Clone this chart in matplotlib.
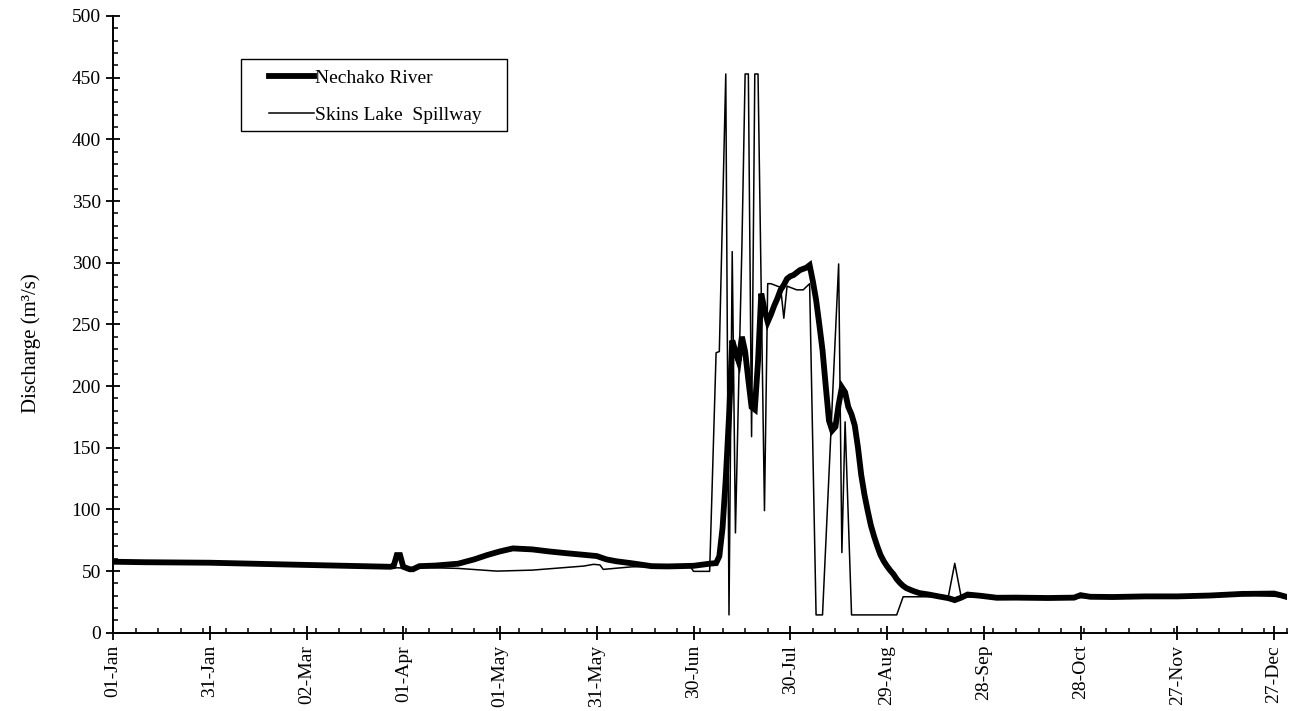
import matplotlib
matplotlib.use("Agg")
import matplotlib.pyplot as plt
from matplotlib.patches import Rectangle
from matplotlib.ticker import MultipleLocator

plt.rcParams['font.family'] = ['Liberation Serif', 'DejaVu Serif']
plt.rcParams['font.size'] = 14

# Nechako River daily discharge (day of year, m3/s)
nechako_day = [0, 10, 30, 60, 86, 87, 88, 89, 90, 92, 93, 95, 100, 107, 112, 116,
               120, 124, 130, 135, 141, 146, 150, 153, 156, 161, 167, 172, 180, 185,
               187, 188, 189, 190, 191, 192, 193, 194, 195, 196, 197, 198, 199, 200,
               201, 202, 203, 204, 205, 206, 207, 208, 209, 210, 211, 212, 213, 214,
               215, 216, 217, 218, 219, 220, 221, 222, 223, 224, 225, 226, 227, 228,
               229, 230, 231, 232, 233, 234, 235, 236, 237, 238, 239, 240, 241, 242,
               243, 244, 245, 246, 248, 250, 253, 256, 259, 261, 263, 265, 269, 274,
               280, 290, 298, 300, 303, 310, 320, 330, 340, 350, 360, 362, 364]
nechako_q = [57.6, 57.2, 56.8, 55.0, 53.5, 54.0, 63.0, 63.0, 53.5, 51.5, 51.5, 54.0,
             54.5, 56.0, 59.5, 63.0, 66.0, 68.4, 67.6, 66.0, 64.4, 63.2, 62.2, 59.5,
             58.0, 56.3, 54.0, 53.8, 54.3, 56.0, 56.5, 62.0, 85.0, 125.0, 175.0, 237.0,
             228.0, 220.0, 240.0, 228.0, 205.0, 183.0, 181.0, 220.0, 275.0, 262.0,
             252.0, 258.0, 265.0, 271.0, 278.0, 282.0, 287.0, 289.0, 290.0, 292.0,
             294.0, 295.0, 296.0, 298.0, 285.0, 270.0, 250.0, 229.0, 200.0, 172.0,
             164.0, 167.0, 185.0, 199.0, 195.0, 183.0, 177.0, 168.0, 150.0, 128.0,
             112.0, 99.0, 87.0, 78.0, 70.0, 63.0, 58.0, 54.0, 50.5, 47.5, 43.5, 40.5,
             38.0, 36.2, 34.0, 32.2, 31.0, 29.5, 28.1, 26.5, 28.5, 31.0, 30.0, 28.4,
             28.5, 28.2, 28.5, 30.5, 29.2, 29.0, 29.5, 29.5, 30.2, 31.5, 31.8, 30.5,
             29.0]

# Skins Lake Spillway daily discharge (day of year, m3/s)
skins_day = [0, 30, 60, 85, 90, 95, 107, 119, 130, 146, 149, 151, 152, 161, 170, 179,
             180, 185, 187, 188, 190, 191, 192, 193, 194, 195, 196, 197, 198, 199, 200,
             202, 203, 204, 205, 206, 207, 208, 209, 210, 211, 212, 213, 214, 216, 218,
             220, 225, 226, 227, 229, 243, 245, 259, 261, 263, 270, 280, 300, 330, 350,
             364]
skins_q = [57.0, 56.5, 54.5, 53.0, 52.5, 53.0, 52.2, 50.0, 50.8, 54.1, 55.5, 55.0,
           51.4, 53.5, 53.5, 53.8, 49.8, 49.8, 227.0, 228.0, 453.0, 14.5, 309.0, 81.0,
           200.0, 313.0, 453.0, 453.0, 159.0, 453.0, 453.0, 99.0, 283.0, 283.0, 282.0,
           281.0, 280.0, 255.0, 281.0, 280.0, 279.0, 278.0, 278.0, 278.0, 283.0, 14.5,
           14.5, 299.0, 65.0, 171.0, 14.5, 14.5, 29.2, 29.2, 56.3, 29.0, 29.0, 28.5,
           28.5, 29.5, 31.0, 29.0]

tick_days = [0, 30, 60, 90, 120, 150, 180, 210, 240, 270, 300, 330, 360]
tick_labels = ['01-Jan', '31-Jan', '02-Mar', '01-Apr', '01-May', '31-May', '30-Jun',
               '30-Jul', '29-Aug', '28-Sep', '28-Oct', '27-Nov', '27-Dec']

fig = plt.figure(figsize=(12.96, 7.11), dpi=100)
ax = fig.add_axes([0.0872, 0.110, 0.9058, 0.8675])

ax.plot(nechako_day, nechako_q, color='black', lw=4.2, solid_joinstyle='miter',
        label='Nechako River')
ax.plot(skins_day, skins_q, color='black', lw=1.1, label='Skins Lake  Spillway')

ax.set_xlim(0, 364)
ax.set_ylim(0, 500)
ax.set_xticks(tick_days)
ax.set_xticklabels(tick_labels, rotation=90)
ax.xaxis.set_minor_locator(MultipleLocator(7))
ax.yaxis.set_major_locator(MultipleLocator(50))
ax.yaxis.set_minor_locator(MultipleLocator(10))

ax.tick_params(which='major', direction='inout', length=9.5, width=1.3,
               labelsize=14, pad=4)
ax.tick_params(which='minor', direction='in', length=3.5, width=1.1)

for side in ('top', 'right'):
    ax.spines[side].set_visible(False)
for side in ('left', 'bottom'):
    ax.spines[side].set_linewidth(1.4)

ax.set_ylabel('Discharge (m³/s)', fontsize=15)
ax.yaxis.set_label_coords(-0.061, 0.47)

# legend entries without a frame, boxed by a plain rectangle
leg = fig.legend(loc='upper left', bbox_to_anchor=(0.2076, 0.9025),
                 bbox_transform=fig.transFigure, borderaxespad=0, borderpad=0,
                 frameon=False, handlelength=2.3, handletextpad=0.05,
                 labelspacing=1.0, fontsize=14)
fig.add_artist(Rectangle((0.186, 0.8158), 0.2052, 0.1013, transform=fig.transFigure,
                         fill=False, edgecolor='black', lw=1.0))

fig.savefig('out.png', dpi=100)
